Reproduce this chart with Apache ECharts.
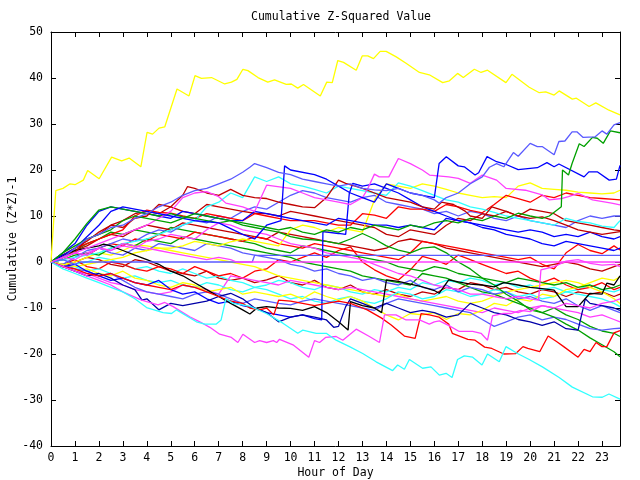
<!DOCTYPE html>
<html><head><meta charset="utf-8">
<script src="https://cdn.jsdelivr.net/npm/echarts@6/dist/echarts.min.js"></script>
<style>html,body{margin:0;padding:0;background:#fff}#c{width:640px;height:480px}</style>
</head><body><div id="c"></div>
<script>
// ---- tick labels / axis texts ----
const titleText = 'Cumulative Z-Squared Value';
const xName = 'Hour of Day';
const yName = 'Cumulative (Z*Z)-1';
const xMin = 0, xMax = 23.75, yMin = -40, yMax = 50;

// common half-hour grid: 0,0.5,...,23.5,23.75
const hours = [];
for (let i = 0; i < 48; i++) hours.push(i * 0.5);
hours.push(23.75);

// ---- irregular series: flat [hour, value, hour, value, ...] ----
const yellowTop = [0,0, 0.1,8, 0.2,15.5, 0.5,16, 0.8,17, 1.0,16.8, 1.35,17.8, 1.53,19.9, 2.01,18.1, 2.53,22.8, 2.95,22, 3.26,22.6, 3.75,20.7, 4.01,28.2, 4.24,27.8, 4.51,29.1, 4.75,29.4, 5.26,37.6, 5.76,36.1, 6.01,40.5, 6.28,39.9, 6.7,40.1, 7.25,38.7, 7.53,39.1, 7.76,39.7, 8.01,41.9, 8.22,41.6, 8.64,40.1, 9.05,39.1, 9.33,39.6, 9.82,38.6, 10.03,38.7, 10.3,37.8, 10.54,38.6, 11.24,36.1, 11.51,39.1, 11.74,39.0, 11.97,43.8, 12.21,43.4, 12.74,41.7, 12.99,44.8, 13.22,44.8, 13.46,44.2, 13.74,45.8, 13.99,45.8, 14.41,44.6, 14.82,43.2, 15.38,41.2, 15.79,40.7, 16.35,39.0, 16.63,39.4, 16.97,41.0, 17.21,40.1, 17.67,41.9, 17.95,41.2, 18.22,41.7, 18.99,39.0, 19.24,40.8, 19.96,38.0, 20.38,36.8, 20.65,37.0, 21.0,36.3, 21.21,37.2, 21.76,35.4, 21.93,35.6, 22.46,33.8, 22.74,34.6, 23.29,33.0, 23.75,32];
const cyanLow = [0,0, 0.5,-1.5, 1,-2.5, 1.5,-3.5, 2,-4.5, 2.5,-5.5, 3,-6.5, 3.5,-8, 3.99,-9.9, 4.68,-11, 5.03,-11.2, 5.24,-10.4, 6.07,-13, 6.42,-13.5, 6.9,-13.5, 7.1,-12.6, 7.3,-8, 7.6,-9, 8.29,-9.6, 8.99,-11.2, 9.68,-13.3, 10.3,-15.5, 10.51,-14.8, 11.07,-15.5, 11.49,-15.5, 11.9,-17, 12.46,-18.4, 13.01,-19.9, 13.57,-21.7, 14.26,-23.6, 14.47,-22.4, 14.75,-23.3, 14.96,-21.2, 15.51,-23.1, 15.86,-22.8, 16.21,-24.6, 16.49,-24.2, 16.74,-25.1, 16.97,-21.2, 17.25,-20.4, 17.6,-20.7, 17.99,-22.4, 18.22,-20, 18.71,-21.7, 18.99,-18.4, 19.47,-19.9, 19.96,-21.2, 20.51,-22.8, 21.21,-25.1, 21.76,-27.2, 22.6,-29.3, 23.01,-29.4, 23.29,-28.7, 23.75,-29.8];
const magentaLow = [0,0, 0.5,-1, 1,-2, 1.5,-3, 2,-4, 2.5,-5, 3,-6.5, 3.78,-8.3, 4.47,-9.3, 4.75,-8.8, 5.1,-9.7, 5.79,-11.9, 6.21,-13, 6.63,-14.2, 7.04,-15.7, 7.53,-16.4, 7.8,-17.5, 8.01,-15.7, 8.5,-17.5, 8.71,-17.1, 9.0,-17.5, 9.28,-17.1, 9.42,-17.5, 9.54,-16.8, 10.1,-18, 10.76,-20.7, 11.0,-17.1, 11.21,-17.5, 11.46,-16.4, 11.9,-16.2, 12.18,-17, 12.74,-14.6, 13.29,-16.2, 13.71,-17.5, 13.92,-11.5, 14.4,-11.5, 14.82,-12.6, 15.38,-12.6, 15.79,-13.5, 16.0,-13, 16.21,-12.8, 16.63,-13.9, 17.04,-15.1, 17.6,-15.1, 17.95,-15.5, 18.22,-17, 18.43,-11.7, 18.85,-11.2, 19.2,-11.2, 19.6,-10.5, 20,-10.8, 20.5,-9.5, 21,-10, 21.5,-9, 22,-9.5, 22.5,-10, 23,-9, 23.5,-8.5, 23.75,-8];
const redLow = [0,0, 0.5,-1, 1,-1.5, 1.5,-2.5, 2,-3, 2.5,-2.5, 3,-3.5, 3.5,-4.5, 4,-5, 4.5,-5.5, 5,-6, 5.5,-5, 6,-5.5, 6.5,-6.5, 7,-7.5, 7.5,-8.5, 8,-9, 8.3,-10, 8.7,-10.4, 9,-10, 9.3,-11.5, 9.5,-8.3, 10,-8.5, 10.5,-9, 11,-9.5, 11.5,-9, 12,-8.5, 12.5,-9, 13,-10, 13.2,-10.4, 13.8,-12.2, 14.2,-13.7, 14.75,-16.1, 15.2,-16.6, 15.45,-11.2, 15.8,-11.5, 16.2,-12, 16.6,-13.5, 16.75,-15.5, 17.4,-16.8, 17.7,-17, 18.1,-18.5, 18.4,-18.8, 18.9,-20, 19.4,-19.9, 19.7,-18.4, 19.9,-18.8, 20.4,-19.5, 20.75,-16.1, 21.1,-17.3, 21.4,-18.4, 22,-20.7, 22.25,-19, 22.5,-19.5, 22.75,-17.5, 23.0,-18.4, 23.2,-18.4, 23.5,-15.4, 23.75,-14.9];
const lightBlueTop = [0,0, 0.5,1, 1,3, 1.5,5, 2,6, 2.5,7.5, 3,8, 3.5,9.5, 4,10.5, 4.5,12, 5,13, 5.5,14.5, 6,15.5, 6.5,16, 7,17, 7.5,18, 8,19.5, 8.3,20.6, 8.5,21.4, 9,20.5, 9.5,19.5, 10,19, 10.5,18, 11,17.5, 11.5,17, 12,16.5, 12.5,17, 13,16, 13.5,15.7, 14,15.5, 14.5,16, 15,15, 15.5,14.5, 16,13.5, 16.2,12.8, 16.5,14, 17,15, 17.5,17, 18,18.5, 18.3,20.6, 18.6,21.4, 18.9,20.7, 19.3,23.8, 19.5,23, 20,25.8, 20.3,25.1, 20.5,25.1, 21,23.3, 21.2,26.2, 21.45,26.3, 21.75,28.3, 21.95,28.3, 22.2,27.1, 22.7,27.2, 23,28.5, 23.2,27.8, 23.5,29.8, 23.75,30.3];
const greenTop = [0,0, 0.5,2, 1,3.5, 1.5,5, 2,6, 2.5,7, 3,9, 3.5,10, 4,9.5, 4.5,9, 5,8.5, 5.5,9.5, 6,10.5, 6.5,10, 7,9.5, 7.5,9, 8,8.5, 8.5,8, 9,7.5, 9.5,7, 10,7.5, 10.5,6.5, 11,6, 11.5,7, 12,6.5, 12.5,7.5, 13,7, 13.5,8, 14,7.5, 14.5,7, 15,8, 15.5,7.5, 16,8.5, 16.5,9, 17,8.5, 17.5,9.5, 18,9, 18.5,10, 19,9.5, 19.5,10.6, 20,10, 20.5,9.5, 20.8,10, 21.3,12, 21.35,20, 21.6,18.9, 21.75,21.4, 22.05,25.7, 22.25,25.1, 22.6,27.1, 22.8,26.9, 23.05,25.8, 23.35,28.5, 23.75,28.1];
const blueTop = [0,0, 1,3, 2,8, 2.5,11, 3,12, 4,11, 5,10, 6,9, 7,8.5, 8,6, 8.5,5, 9,8, 9.6,9, 9.75,20.9, 10,20, 11,19, 11.5,18, 12,16.5, 12.5,15, 13,14, 13.5,13, 14,17, 14.5,16, 15,15, 15.5,14.5, 16,14, 16.2,21.4, 16.5,22.9, 17,20.9, 17.25,20.7, 17.7,18.9, 17.85,19.4, 18.2,22.9, 18.6,21.8, 18.95,21.3, 19.5,20.1, 20.3,20.5, 20.7,21.6, 21,20.7, 21.2,21.3, 22.25,18.5, 22.45,19.6, 22.8,19.6, 23.3,17.8, 23.6,18, 23.75,21];
const magentaHigh = [0,0, 1,2, 2,4, 3,6, 4,8, 5,11, 5.5,14, 6,15, 6.5,15.3, 7,14.2, 7.3,12.8, 8,12, 8.5,11, 9,16.7, 10,16, 10.5,15, 11,14, 11.5,13.5, 12,13, 12.5,12.5, 13,14, 13.2,15.7, 13.5,19.1, 13.7,18.5, 14.1,18.5, 14.5,22.5, 15,21.4, 15.5,20, 15.8,18.9, 16.6,18.5, 17,18.2, 17.5,17.1, 18,18.9, 18.6,17.8, 19,16, 19.8,15.6, 20.5,14.6, 20.8,13.5, 21.3,13.8, 21.6,14.2, 22,14.9, 22.6,13.5, 23.4,12.8, 23.75,12.4];
const darkRedHigh = [0,0, 1,2, 1.5,5, 2,6, 2.5,8, 3,7.5, 3.5,9.5, 4,10, 4.5,12.5, 5,12, 5.5,14.5, 5.7,16.4, 6,16, 6.5,15, 7,14.5, 7.5,15.8, 8,14.5, 8.5,14, 9,13.8, 9.5,13, 10,12.5, 10.5,12, 11,11.8, 11.5,14, 12,17.8, 12.3,17.1, 12.7,16.5, 13,16, 13.5,15, 14,14, 14.5,13.5, 15,13, 15.5,12, 16,11.5, 16.3,13, 16.8,12.5, 17.3,11, 17.5,10, 18,9.5, 18.4,12, 19,11, 19.5,10, 20,9.5, 20.5,9.8, 21,9, 21.5,8, 22,7, 22.5,6.5, 23,6, 23.75,6.6];
const blackLine = [0,0, 0.5,1.5, 1,2.5, 1.5,3, 2,3.5, 2.2,3.9, 2.5,3.5, 3,2.5, 3.5,1.5, 4,0.5, 4.5,-0.5, 5,-2, 5.5,-3, 6,-4.5, 6.5,-6, 7,-7.5, 7.5,-9, 8,-10.4, 8.3,-11.3, 8.6,-10, 9,-9.7, 9.5,-10, 10,-10.1, 10.5,-10.5, 11,-9.7, 11.5,-11, 12,-13, 12.4,-14.8, 12.5,-8.6, 13,-9.5, 13.5,-10, 13.8,-11, 14,-3.9, 14.5,-4.2, 15,-4.8, 15.5,-5.4, 16,-6.2, 16.2,-6.8, 16.6,-3.9, 17,-4.3, 17.5,-4.8, 18,-5, 18.5,-5.4, 18.9,-4.5, 19.5,-5, 20,-5.5, 20.5,-5.8, 21,-6.1, 21.5,-9.7, 22,-9.7, 22.5,-6.8, 23,-7, 23.2,-4.6, 23.5,-5, 23.75,-3];
const navyLine = [0,0, 0.5,-1, 1,-2, 1.5,-3, 2,-2.5, 2.5,-3.5, 3,-5, 3.5,-6, 3.8,-8.3, 4,-8, 4.5,-10.4, 5,-9, 5.5,-9.5, 6,-9, 6.5,-8.5, 7,-7.5, 7.5,-6.8, 8,-8, 8.5,-10, 9,-11, 9.5,-13, 10,-12, 10.5,-11.5, 11,-12, 11.5,-12.6, 11.8,-14.2, 12,-14, 12.3,-9.7, 12.5,-8, 13,-9, 13.5,-10, 14,-9, 14.5,-10, 15,-11, 15.5,-10.5, 16,-11, 16.5,-12, 17,-11.5, 17.5,-9, 18,-10, 18.5,-11, 19,-11.5, 19.5,-12.5, 20,-13, 20.5,-13.8, 21,-13, 21.5,-14.5, 22,-14.8, 22.3,-8, 22.5,-9, 23,-9.5, 23.5,-10, 23.75,-10.5];
const blueJump = [0,0, 0.5,-1, 1,-0.5, 1.5,-2, 2,-3, 2.5,-4, 3,-3.5, 3.5,-4.5, 4,-5, 4.5,-4, 5,-6, 5.5,-7, 6,-6.5, 6.5,-8, 7,-9, 7.5,-8.5, 8,-9.5, 8.5,-10, 9,-11, 9.5,-11.5, 10,-12, 10.5,-11.5, 11,-12.3, 11.3,-12.6, 11.35,6.6, 12,6.2, 12.3,6, 12.45,14.9, 12.6,17.1, 13,16.5, 13.5,17, 14,16, 14.5,15, 15,13.5, 15.5,12, 16,11, 16.5,10, 17,9, 17.5,8.5, 18,7.5, 18.5,7, 19,6, 19.5,5.5, 20,5, 20.5,4, 21,3.5, 21.5,4.5, 22,4, 22.5,3.5, 23,3, 23.5,2.5, 23.75,3];
const magentaMid = [0,0, 0.5,1, 1,0.5, 1.5,2, 2,3, 2.5,2.5, 3,3.5, 3.5,3, 4,4.5, 4.5,5, 5,6, 5.5,5.5, 6,5, 6.5,7, 7,8.5, 7.5,8, 8,7, 8.5,6.5, 9,6, 9.5,5, 10,4, 10.5,3.5, 11,3, 11.5,2, 12,1.5, 12.5,1, 13,0.5, 13.5,-0.5, 14,-1.5, 14.5,-2.5, 15,-3, 15.5,-4, 16,-5, 16.5,-5.5, 17,-6, 17.5,-7, 18,-7, 18.5,-7.5, 19,-8, 19.5,-7.5, 20,-8, 20.35,-8.3, 20.45,-1.7, 21,-1, 21.5,0.2, 22,0.5, 22.5,-0.3, 23,-0.7, 23.5,-0.5, 23.75,-1];
const blueFlat = [0,0, 0.5,0.5, 1,-0.5, 1.2,0, 8.4,0, 8.5,1.45, 23.75,1.45];
const magentaFlat = [0,0, 0.5,1, 1,2, 1.5,1.5, 2,3, 2.5,2.5, 3,4, 3.5,3.5, 4,3, 4.5,2.5, 5,2, 5.5,1.5, 6,1, 6.5,0.5, 7,1, 7.5,0.5, 7.75,0, 23.75,0];

// ---- half-hour grid series (49 values each) ----
const cyanHigh = [0,0.5,1,1.5,2,3,4,4.5,5,6,7,8,9,12,13,15,14,18.5,17.5,18.5,17,16.5,15.8,15,16.5,16,15.5,15,14.5,17.2,16.5,15.5,14.5,13.5,13,12,11.5,10.8,10,9.5,9,8.5,8,9.5,8.8,8.5,7.8,7.5,9];
const redHigh = [0,1.5,3,4,5,6,7,10,11.3,10.8,10.6,10,9.5,10.5,10,9.5,9,10.5,10,9.5,9,9,9,8.5,8,8,10.5,10.2,9.5,12,11.5,11.5,11,12.5,12,11.2,10.7,12.5,14.5,13.8,13,14.5,14,15,14.5,14,13.8,13.6,13.5];
const yellowMid = [0,-0.5,-1,-0.5,0,0.5,1,2,2.5,3,3,3.5,4.5,4,3.5,4.4,5,4.5,4,3.5,7,8,7.5,6.5,7.5,7,6.5,13.5,17,16.5,16,17,16.5,15.8,15,14.5,14,14.2,14,16.5,17.2,16,15.8,15.6,15.2,15,14.8,15,15.6];
const blueHigh = [0,2,4,8,11,12,11.5,11,10.5,10,9.5,11,10.5,10,9.5,9,9,11,10.5,10,9.5,9,8.5,8,9.5,9,8.5,8,8,7.5,8,7.5,7,9.5,9,8.5,8,7.5,7,6.5,7,6.5,5.5,6,5.5,6.5,5.5,5,5.5];
const greenDown = [0,2,5,8.4,11.3,12,11.5,11,10.5,10,10.5,9.8,9.5,9,8.5,9,8,7.5,7,6.5,5.5,5,4.8,4.5,4,5,6.2,5,3.5,2.6,2,3,3.3,2,0,-1.5,-3.5,-5,-7,-8.5,-10.4,-11,-12,-13.5,-14.8,-16.5,-18,-19.5,-20.6];
const lightBlueLow = [0,-0.5,-1.5,-2,-3,-2.5,-4,-5.5,-6.5,-7,-7.5,-8,-7,-6.5,-7,-8,-9,-8,-8.5,-9,-9.3,-8.5,-8,-8.5,-9,-9.5,-10,-10.5,-9,-8,-8.5,-9,-9.5,-10,-10.5,-11,-12.5,-14,-13,-12,-11.5,-12.6,-12,-12.5,-13.5,-14.5,-14.8,-14.5,-14.4];
const redMid = [0,1,2,1.5,3,4,3.5,5,4.5,6,5.5,5,6.5,6,5.5,5,4.5,5.5,5,4,3.5,3,4,3.5,3,2.5,2,1.5,1,0.5,2,4.5,4,3.5,3,2.5,2,1.5,1,0.5,1,-0.5,-1.5,2,3.8,2.5,1.8,3.5,2.6];
const redLowMid = [0,-0.5,0.5,-1,-1.5,0,-0.5,-1.5,-2,-1,-1.5,-2.5,-1,-2,-3,-2.5,-3.5,-2,-1.5,0.5,0,1,2,1,2.5,3.3,0,-1.7,-3,-3.9,-1.7,1.2,0.5,-0.5,1.5,0.5,-0.5,-1.5,-2.5,-2,-3.5,-4.5,-3.5,-5,-6,-5.5,-4.5,-6,-5.5];
const cyanMid = [0,-1,-1,-2,-1.5,-2.5,-3.5,-3,-4,-4.5,-4,-5,-5.5,-4.5,-5,-6,-6.5,-5.5,-6,-7,-8,-7.5,-8.5,-9,-8,-7.5,-8.5,-9,-8,-6.5,-7,-8,-7.5,-6,-6.5,-7.5,-7,-6,-6.5,-7.5,-7,-8,-7.5,-6.5,-7,-7.5,-8,-9,-9.7];
const yellowLow = [0,-1,-2,-1.5,-2.5,-3,-2,-3.5,-4,-5,-5.5,-4.5,-5,-6.5,-6,-5.5,-7,-6.5,-7,-7.5,-7,-8,-6.5,-7.5,-8.3,-7.5,-8.5,-10,-11.5,-12.6,-11.2,-11.5,-11,-12.5,-11.2,-11.5,-10.5,-9,-9.5,-8,-8.5,-7,-7.5,-6,-5.5,-4.5,-3.5,-4,-3.2];
const darkRedMid = [0,1.5,3,4.5,6.5,8,9,10.5,11,10.5,12,11,10.5,12.5,12,11.5,11,10.6,10.5,10,11,10.5,10,9.5,9,8.5,8,7.5,6,5.5,7,6.5,6,8,9.5,9,10.5,10,11,10,11.5,11,10.5,9,8.5,8,7.5,7,6.8];
const darkRedLow = [0,-1,0,1,0.5,-0.5,-1,0.5,0,-1,-2,-2.5,-3,-2,-3.5,-4,-3.5,-4.5,-3.9,-3,-4.5,-5,-4,-5.5,-6,-5,-6.5,-7,-6,-7,-7.5,-6.5,-7,-5.5,-6,-4.5,-5,-6,-5.5,-6.5,-7,-6,-6.5,-7.5,-6.5,-7,-6.5,-7.5,-7];
const blueMid = [0,1,2,1.5,3,2,1.5,3,2.5,4,3.5,3,2.5,4,3.5,3,2,1.5,1,0.5,-0.5,-1,-2,-1.5,-2.5,-3,-4,-3.5,-4.5,-5,-4,-5.5,-6,-5,-6.5,-5.5,-6,-7,-6.5,-8,-7.5,-8.5,-9,-8,-9.5,-10.5,-9.5,-10.5,-11];
const greenLow = [0,0.5,1.5,2,1.5,3,4,3.5,5,4.5,4,5.5,5,4.5,4,3.5,3,2.5,2,1.5,1,0,-0.5,-1,-1.5,-2,-3,-3.5,-4,-4.5,-5,-2.5,-3,-3.5,-4.5,-5.5,-6.5,-7,-8,-9,-10,-11,-10,-11.5,-12.5,-14,-15,-15.5,-16.2];
const greenMid = [0,1,2.5,4,5,6.5,6,7,6.5,6,7.5,7,6.5,6,5.5,5,4.5,4,3,2.5,2,3.5,3,2.5,2,1.5,1,0.5,0,-1,-1.5,-2,-1,-1.5,-2.5,-3,-3.5,-4,-4.5,-3.5,-4,-4.5,-5,-4.5,-5.5,-5,-6,-5.5,-5];
const lightBlueMid = [0,-0.5,1,2.5,3,4,5,4.5,6,7,6.5,8,9,8.5,10,9.5,11,12,11.5,13,14.5,15.5,15,14,13.5,13,14,14.5,13,12.5,12,11.5,10.5,11,10,11,10.5,9.5,9,10,9,8.5,8,7.5,9,10,9.5,10,10];
const redZero = [0,1,2.5,3.5,5,6,5.5,7,8,7.5,7,8.5,8,7.5,7,6.5,6,5.5,5,6.5,6,5.5,5,4.5,4,3.5,3,2.5,3,4.5,5,4.5,4,3,2.5,2,1.5,1,0.5,0,-0.5,-1,-0.5,0,-0.5,-1.5,-2,-1,-0.5];
const yellowDown = [0,-0.5,0,1,2,1.5,2.5,3.7,3.5,3,2.5,2,1.5,1,0.5,0,-0.5,-1,-2,-3,-3.5,-4,-4.5,-5,-5.5,-6,-6.5,-7,-7.5,-7,-8,-8.5,-8,-7.5,-8.5,-9,-8.5,-7.5,-6.5,-6,-5.5,-5,-4.5,-4,-4.5,-5.5,-6.5,-8,-9];
const magentaDown = [0,-1,-2,-2.5,-3.5,-4.5,-5,-6,-6.5,-7,-6.5,-5,-5.5,-6,-7,-3,-3.5,-4,-4.5,-5,-4,-4.5,-5,-5.5,-6,-5.5,-6,-6.5,-7,-7.5,-8,-8.5,-9,-9.5,-10,-10.5,-11,-10,-10.5,-11,-10,-9.5,-10,-10.5,-11,-12,-11.5,-12.5,-13];
const cyanLowMid = [0,0.5,-0.5,0,1,0.5,-0.5,-1.5,-1,-2,-2.5,-1.5,-2.5,-3.5,-3,-4,-4.5,-5.5,-5,-4,-4.5,-5.5,-6,-5,-5.5,-6.5,-7,-6,-6.5,-5.5,-6,-4.5,-5,-4,-4.5,-3.5,-4,-5,-4.5,-5.5,-5,-6,-5.5,-6.5,-6,-5,-6,-6.5,-6];

// ---- colours ----
const C = {
  yellow: '#ffff00', cyan: '#30ffff', blue: '#0000ff', lblue: '#5a5aff',
  navy: '#0000a8', red: '#ff0000', dred: '#c00000', green: '#00a000',
  magenta: '#ff40ff', black: '#000000'
};

function pairs(flat) { const o = []; for (let i = 0; i < flat.length; i += 2) o.push([flat[i], flat[i + 1]]); return o; }
function grid(vals) { return vals.map((v, i) => [hours[i], v]); }

const lines = [
  [grid(darkRedLow), C.dred], [grid(cyanLowMid), C.cyan], [grid(redLowMid), C.red],
  [grid(yellowDown), C.yellow], [grid(magentaDown), C.magenta], [grid(cyanMid), C.cyan],
  [grid(yellowLow), C.yellow], [grid(greenMid), C.green], [grid(greenLow), C.green],
  [grid(blueMid), C.lblue], [grid(redZero), C.dred], [grid(redMid), C.red],
  [grid(lightBlueMid), C.lblue], [grid(darkRedMid), C.dred], [grid(lightBlueLow), C.lblue],
  [grid(yellowMid), C.yellow], [grid(redHigh), C.red], [grid(cyanHigh), C.cyan],
  [grid(blueHigh), C.blue], [grid(greenDown), C.green],
  [pairs(magentaMid), C.magenta], [pairs(blueJump), C.blue], [pairs(navyLine), C.navy],
  [pairs(blackLine), C.black], [pairs(darkRedHigh), C.dred], [pairs(magentaHigh), C.magenta],
  [pairs(blueTop), C.blue], [pairs(greenTop), C.green], [pairs(lightBlueTop), C.lblue],
  [pairs(redLow), C.red], [pairs(magentaLow), C.magenta], [pairs(cyanLow), C.cyan],
  [pairs(blueFlat), C.lblue], [pairs(magentaFlat), C.magenta], [pairs(yellowTop), C.yellow]
];

const FONT = 'DejaVu Sans Mono';
const FS = 11.5;
const txt = { color: '#000', fontFamily: FONT, fontSize: FS };

const chart = echarts.init(document.getElementById('c'), null, { renderer: 'canvas' });
chart.setOption({
  animation: false,
  backgroundColor: '#fff',
  title: { text: titleText, left: 336, top: 6, textAlign: 'center',
    textStyle: { color: '#000', fontFamily: FONT, fontSize: FS, fontWeight: 'normal' } },
  grid: { left: 51, right: 20, top: 32, bottom: 34, containLabel: false, outerBoundsMode: 'none' },
  xAxis: [
    { type: 'value', min: xMin, max: xMax, interval: 1, position: 'bottom',
      axisLine: { show: true, onZero: false, lineStyle: { color: '#000', width: 1 } },
      axisTick: { show: true, inside: true, length: 5, lineStyle: { color: '#000' } },
      axisLabel: Object.assign({ margin: 6, formatter: v => (Number.isInteger(v) ? String(v) : '') }, txt),
      splitLine: { show: false },
      name: xName, nameLocation: 'middle', nameGap: 21, nameMoveOverlap: false, nameTextStyle: txt },
    { type: 'value', min: xMin, max: xMax, interval: 1, position: 'top',
      axisLine: { show: true, onZero: false, lineStyle: { color: '#000', width: 1 } },
      axisTick: { show: true, inside: true, length: 5, lineStyle: { color: '#000' } },
      axisLabel: { show: false }, splitLine: { show: false } }
  ],
  yAxis: [
    { type: 'value', min: yMin, max: yMax, interval: 10, position: 'left',
      axisLine: { show: true, onZero: false, lineStyle: { color: '#000', width: 1 } },
      axisTick: { show: true, inside: true, length: 5, lineStyle: { color: '#000' } },
      axisLabel: Object.assign({ margin: 8 }, txt),
      splitLine: { show: false },
      name: yName, nameLocation: 'middle', nameGap: 32, nameRotate: 90, nameMoveOverlap: false, nameTextStyle: txt },
    { type: 'value', min: yMin, max: yMax, interval: 10, position: 'right',
      axisLine: { show: true, onZero: false, lineStyle: { color: '#000', width: 1 } },
      axisTick: { show: true, inside: true, length: 5, lineStyle: { color: '#000' } },
      axisLabel: { show: false }, splitLine: { show: false } }
  ],
  series: lines.map(([data, color]) => ({
    type: 'line', data: data, xAxisIndex: 0, yAxisIndex: 0,
    showSymbol: false, symbol: 'none', silent: true,
    lineStyle: { color: color, width: 1.3 }, emphasis: { disabled: true }
  }))
});
</script></body></html>
